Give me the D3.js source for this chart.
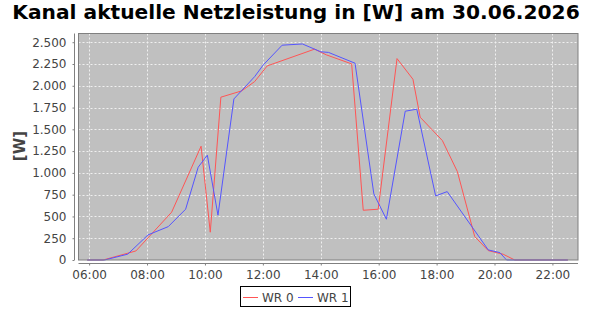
<!DOCTYPE html>
<html>
<head>
<meta charset="utf-8">
<script src="https://cdn.jsdelivr.net/npm/d3@7"></script>
<style>
  body { margin: 0; background: #fff; }
  svg { font-family: "DejaVu Sans", sans-serif; }
</style>
</head>
<body>
<div id="chart"></div>
<script>
// data (time of day, watts)
var wr0Times  = ['05:56','06:29','07:37','08:51','09:52','10:11','10:33','11:16','11:43','12:09','13:47','14:12','15:04','15:28','15:59','16:38','17:11','17:26','18:12','18:43','19:19','19:47','20:18','20:42','22:32'];
var wr0Values = [0, 0, 104, 549, 1306, 319, 1869, 1941, 2048, 2228, 2420, 2354, 2251, 571, 583, 2312, 2075, 1639, 1371, 1015, 269, 108, 66, 0, 0];

var wr1Times  = ['05:56','06:32','07:20','08:02','08:44','09:20','09:46','10:05','10:27','11:00','11:43','12:01','12:40','13:22','14:00','14:16','15:11','15:50','16:16','16:55','17:19','17:58','18:22','19:47','20:11','20:25','22:32'];
var wr1Values = [0, 0, 67, 288, 383, 583, 1065, 1203, 514, 1849, 2105, 2240, 2466, 2480, 2390, 2383, 2259, 759, 468, 1708, 1731, 736, 785, 116, 85, 0, 0];

var seriesNames = ['WR 0', 'WR 1'];
var seriesColors = ['#ff5555', '#5555ff'];
var yTicks = [0, 250, 500, 750, 1000, 1250, 1500, 1750, 2000, 2250, 2500];
var xDomain = ['05:38', '22:53'];
var yMax = 2600;
var title = 'Kanal aktuelle Netzleistung in [W] am 30.06.2026';
var yLabel = '[W]';

var parseT = d3.timeParse('%Y-%m-%d %H:%M');
function toDate(t) { return parseT('2026-06-30 ' + t); }

var series = [
    wr0Times.map(function(t, i) { return {t: toDate(t), v: wr0Values[i]}; }),
    wr1Times.map(function(t, i) { return {t: toDate(t), v: wr1Values[i]}; })
];

var W = 590, H = 310,
    pLeft = 78.5, pRight = 578, pTop = 33.5, pBottom = 260;

var de = d3.formatLocale({decimal: ',', thousands: '.', grouping: [3], currency: ['', ' €']});
var fmtY = de.format(',d');

var svg = d3.select('#chart').append('svg')
    .attr('width', W)
    .attr('height', H);

var x = d3.scaleTime()
    .domain(xDomain.map(toDate))
    .range([pLeft, pRight]);
var y = d3.scaleLinear()
    .domain([0, yMax])
    .range([pBottom, pTop]);

var xTicks = d3.timeHour.every(2).range(toDate('06:00'), toDate('22:01'));

// plot background
svg.append('rect')
    .attr('x', pLeft)
    .attr('y', pTop)
    .attr('width', pRight - pLeft)
    .attr('height', pBottom - pTop)
    .attr('fill', '#c0c0c0');

// grid
var grid = svg.append('g')
    .attr('stroke', '#f0f0f0')
    .attr('stroke-width', 1)
    .attr('stroke-dasharray', '2,2');
grid.selectAll('.hg')
    .data(yTicks.filter(function(d) { return d > 0; }))
    .enter().append('line')
    .attr('x1', pLeft).attr('x2', pRight)
    .attr('y1', function(d) { return Math.round(y(d)) + 0.5; })
    .attr('y2', function(d) { return Math.round(y(d)) + 0.5; });
grid.selectAll('.vg')
    .data(xTicks)
    .enter().append('line')
    .attr('y1', pTop).attr('y2', pBottom)
    .attr('x1', function(d) { return Math.round(x(d)) + 0.5; })
    .attr('x2', function(d) { return Math.round(x(d)) + 0.5; });

// lines
var line = d3.line()
    .x(function(d) { return x(d.t); })
    .y(function(d) { return y(d.v); });

svg.append('g').selectAll('path')
    .data(series)
    .enter().append('path')
    .attr('d', line)
    .attr('fill', 'none')
    .attr('stroke', function(d, i) { return seriesColors[i]; })
    .attr('stroke-width', 1);

// plot border
svg.append('rect')
    .attr('x', pLeft)
    .attr('y', pTop)
    .attr('width', pRight - pLeft)
    .attr('height', pBottom - pTop)
    .attr('fill', 'none')
    .attr('stroke', '#808080');

// axes
var yAxis = d3.axisLeft(y)
    .tickValues(yTicks)
    .tickFormat(fmtY)
    .tickSize(2)
    .tickPadding(6)
    .tickSizeOuter(0);
var xAxis = d3.axisBottom(x)
    .tickValues(xTicks)
    .tickFormat(d3.timeFormat('%H:%M'))
    .tickSize(2)
    .tickPadding(5)
    .tickSizeOuter(0);

var yy = svg.append('g')
    .attr('transform', 'translate(74.5,0)')
    .call(yAxis);
var xx = svg.append('g')
    .attr('transform', 'translate(0,263.5)')
    .call(xAxis);

[yy, xx].forEach(function(a) {
    a.attr('font-family', '"DejaVu Sans", sans-serif')
        .attr('font-size', 12);
    a.selectAll('text').attr('fill', '#444');
    a.selectAll('line, path').attr('stroke', '#808080');
});
yy.select('.domain').attr('d', 'M0,' + pTop + 'V' + pBottom);
xx.select('.domain').attr('d', 'M' + pLeft + ',0H' + pRight);

// title
svg.append('text')
    .attr('x', 296)
    .attr('y', 19)
    .attr('text-anchor', 'middle')
    .attr('font-size', 20.2)
    .attr('font-weight', 'bold')
    .attr('fill', '#000')
    .text(title);

// y label
svg.append('text')
    .attr('transform', 'translate(25,146) rotate(-90)')
    .attr('text-anchor', 'middle')
    .attr('font-size', 15)
    .attr('font-weight', 'bold')
    .attr('fill', '#444')
    .text(yLabel);

// legend
var legend = svg.append('g');
legend.append('rect')
    .attr('x', 240.5)
    .attr('y', 286.5)
    .attr('width', 110)
    .attr('height', 20)
    .attr('fill', '#fff')
    .attr('stroke', '#000');

var item = legend.selectAll('.item')
    .data(seriesNames)
    .enter().append('g')
    .attr('transform', function(d, i) { return 'translate(' + (243 + i * 55) + ',297)'; });
item.append('rect')
    .attr('x', 0)
    .attr('y', 0)
    .attr('width', 15)
    .attr('height', 1)
    .attr('fill', function(d) { return seriesColors[seriesNames.indexOf(d)]; });
item.append('text')
    .attr('x', 19)
    .attr('y', 0.5)
    .attr('dy', '0.35em')
    .attr('font-size', 12)
    .attr('fill', '#444')
    .text(function(d) { return d; });
</script>
</body>
</html>
